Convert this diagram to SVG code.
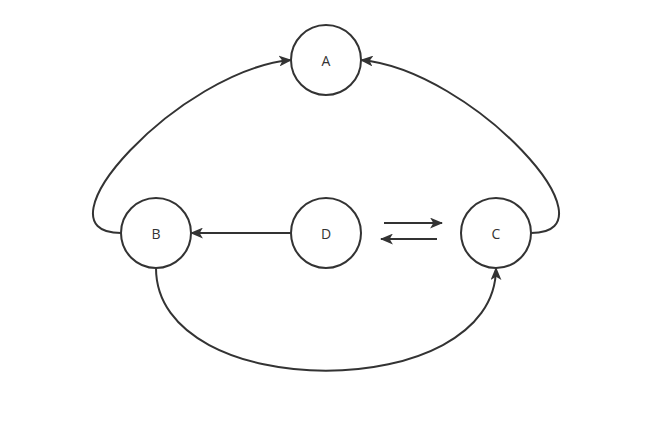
<svg xmlns="http://www.w3.org/2000/svg" width="653" height="427" viewBox="0 0 653 427">
<style>
.node{fill:#fff;stroke:#333;stroke-width:2}
.lbl{font-family:"Open Sans","Liberation Sans",sans-serif;font-size:14px;fill:#333;text-anchor:middle;dominant-baseline:central}
.edge{fill:none;stroke:#333;stroke-width:2;marker-end:url(#arr)}
</style>
<defs>
<marker id="arr" viewBox="0 0 12 10" refX="11" refY="5" markerWidth="13" markerHeight="11" markerUnits="userSpaceOnUse" orient="auto">
<path d="M0,0 L12,5 L0,10 L3,5 Z" fill="#333"/>
</marker>
</defs>
<rect width="653" height="427" fill="#fff"/>
<g id="edges">
<path class="edge" d="M121,233 C30,233 180,70 291,60"/>
<path class="edge" d="M531,233 C622,233 472,70 361,60"/>
<path class="edge" d="M291,233 L191,233"/>
<path class="edge" d="M156,268 C156,405 496,405 496,268"/>
<path class="edge" d="M384,223 L442,223"/>
<path class="edge" d="M437,239 L381,239"/>
</g>
<g id="A"><circle class="node" cx="326" cy="60" r="35"/><text class="lbl" x="326" y="60">A</text></g>
<g id="B"><circle class="node" cx="156" cy="233" r="35"/><text class="lbl" x="156" y="233">B</text></g>
<g id="D"><circle class="node" cx="326" cy="233" r="35"/><text class="lbl" x="326" y="233">D</text></g>
<g id="C"><circle class="node" cx="496" cy="233" r="35"/><text class="lbl" x="496" y="233">C</text></g>
</svg>
